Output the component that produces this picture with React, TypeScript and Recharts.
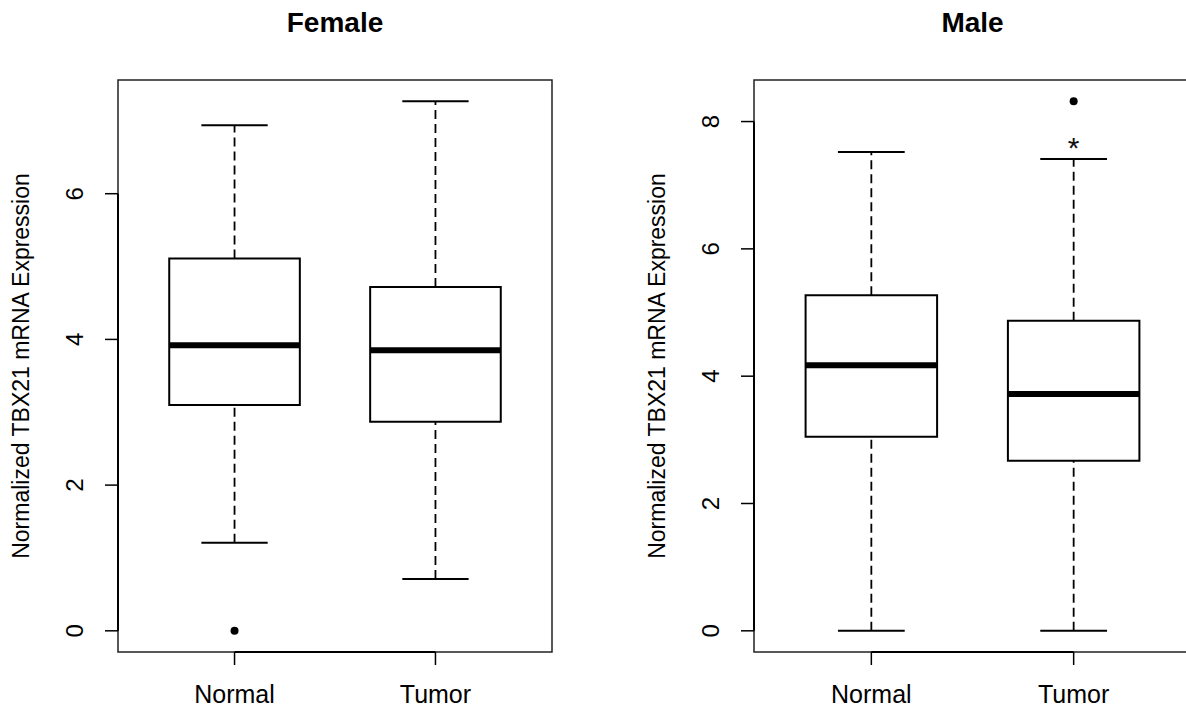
import { ComposedChart, XAxis, YAxis, ReferenceArea, ReferenceLine, Scatter } from "recharts";

const groups = ["Normal", "Tumor"];
const groupPos = [1, 2];

const femaleLow = [1.21, 0.71];
const femaleQ1 = [3.1, 2.87];
const femaleMedian = [3.92, 3.85];
const femaleQ3 = [5.11, 4.72];
const femaleHigh = [6.94, 7.27];
const femaleOutliers = [{ x: 1, y: 0 }];
const femaleStars: { x: number; y: number }[] = [];
const femaleTicks = [0, 2, 4, 6];

const maleLow = [0, 0];
const maleQ1 = [3.05, 2.67];
const maleMedian = [4.17, 3.72];
const maleQ3 = [5.27, 4.87];
const maleHigh = [7.52, 7.41];
const maleOutliers = [{ x: 2, y: 8.32 }];
const maleStars = [{ x: 2, y: 7.68 }];
const maleTicks = [0, 2, 4, 6, 8];

const FONT = "'Liberation Sans', Arial, Helvetica, sans-serif";
const xDomain = [0.42, 2.58];
const BOX_HALF = 0.325;
const CAP_HALF = 0.165;

const YTick = (props: any) => {
	const { x, y, payload } = props;
	return (
		<text
			x={x}
			y={y}
			transform={`rotate(-90, ${x}, ${y})`}
			textAnchor="middle"
			fontSize={24}
			fontFamily={FONT}
			fill="#000"
		>
			{payload.value}
		</text>
	);
};

interface PanelProps {
	title: string;
	low: number[];
	q1: number[];
	median: number[];
	q3: number[];
	high: number[];
	outliers: { x: number; y: number }[];
	stars: { x: number; y: number }[];
	ticks: number[];
	left: number;
	width: number;
	axisWidth: number;
	plotWidth: number;
}

function BoxPanel({ title, low, q1, median, q3, high, outliers, stars, ticks, left, width, axisWidth, plotWidth }: PanelProps) {
	const all = [...low, ...high, ...outliers.map((o) => o.y)];
	const lo = Math.min(...all);
	const hi = Math.max(...all);
	const pad = (hi - lo) * 0.04;
	const yDomain = [lo - pad, hi + pad];

	return (
		<div style={{ position: "absolute", left, top: 0, width, height: 714 }}>
			<div
				style={{
					position: "absolute",
					left: axisWidth,
					width: plotWidth,
					top: 9,
					textAlign: "center",
					fontFamily: FONT,
					fontWeight: "bold",
					fontSize: 28,
					lineHeight: "28px",
				}}
			>
				{title}
			</div>
			<ComposedChart
				width={width}
				height={714}
				margin={{ top: 80, right: width - axisWidth - plotWidth, bottom: 0, left: 0 }}
			>
				<XAxis
					type="number"
					dataKey="x"
					domain={xDomain}
					ticks={groupPos}
					allowDataOverflow
					height={62}
					tickSize={13}
					tickMargin={20}
					axisLine={false}
					tickLine={{ stroke: "#000", strokeWidth: 1.5 }}
					tick={{ fontSize: 25, fill: "#000", fontFamily: FONT }}
					tickFormatter={(v: number) => groups[v - 1]}
				/>
				<YAxis
					type="number"
					dataKey="y"
					domain={yDomain}
					ticks={ticks}
					allowDataOverflow
					width={axisWidth}
					tickSize={13}
					tickMargin={22}
					axisLine={false}
					tickLine={{ stroke: "#000", strokeWidth: 1.5 }}
					tick={<YTick />}
					label={(p: any) => {
						const vb = p.viewBox;
						const tx = vb.x + vb.width - 89;
						const ty = vb.y + vb.height / 2;
						return (
							<text
								x={tx}
								y={ty}
								transform={`rotate(-90, ${tx}, ${ty})`}
								textAnchor="middle"
								fontSize={23}
								fontFamily={FONT}
								fill="#000"
							>
								Normalized TBX21 mRNA Expression
							</text>
						);
					}}
				/>
				<ReferenceArea
					x1={xDomain[0]}
					x2={xDomain[1]}
					y1={yDomain[0]}
					y2={yDomain[1]}
					fill="none"
					stroke="#222"
					strokeWidth={1.5}
					ifOverflow="visible"
				/>
				<ReferenceLine
					segment={[
						{ x: groupPos[0], y: yDomain[0] },
						{ x: groupPos[1], y: yDomain[0] },
					]}
					stroke="#000"
					strokeWidth={2}
					ifOverflow="visible"
				/>
				<ReferenceLine
					segment={[
						{ x: xDomain[0], y: ticks[0] },
						{ x: xDomain[0], y: ticks[ticks.length - 1] },
					]}
					stroke="#000"
					strokeWidth={2}
					ifOverflow="visible"
				/>
				{groupPos.map((pos, i) => [
					<ReferenceLine
						key={`wl${i}`}
						segment={[
							{ x: pos, y: low[i] },
							{ x: pos, y: q1[i] },
						]}
						stroke="#000"
						strokeWidth={1.8}
						strokeDasharray="9 5"
						ifOverflow="visible"
					/>,
					<ReferenceLine
						key={`wh${i}`}
						segment={[
							{ x: pos, y: q3[i] },
							{ x: pos, y: high[i] },
						]}
						stroke="#000"
						strokeWidth={1.8}
						strokeDasharray="9 5"
						ifOverflow="visible"
					/>,
					<ReferenceLine
						key={`cl${i}`}
						segment={[
							{ x: pos - CAP_HALF, y: low[i] },
							{ x: pos + CAP_HALF, y: low[i] },
						]}
						stroke="#000"
						strokeWidth={2}
						ifOverflow="visible"
					/>,
					<ReferenceLine
						key={`ch${i}`}
						segment={[
							{ x: pos - CAP_HALF, y: high[i] },
							{ x: pos + CAP_HALF, y: high[i] },
						]}
						stroke="#000"
						strokeWidth={2}
						ifOverflow="visible"
					/>,
					<ReferenceArea
						key={`b${i}`}
						x1={pos - BOX_HALF}
						x2={pos + BOX_HALF}
						y1={q1[i]}
						y2={q3[i]}
						fill="#fff"
						fillOpacity={1}
						stroke="#000"
						strokeWidth={2}
						ifOverflow="visible"
					/>,
					<ReferenceLine
						key={`m${i}`}
						segment={[
							{ x: pos - BOX_HALF, y: median[i] },
							{ x: pos + BOX_HALF, y: median[i] },
						]}
						stroke="#000"
						strokeWidth={6}
						ifOverflow="visible"
					/>,
				])}
				<Scatter
					data={outliers}
					isAnimationActive={false}
					shape={(p: any) => <circle cx={p.cx} cy={p.cy} r={4} fill="#000" />}
				/>
				<Scatter
					data={stars}
					isAnimationActive={false}
					shape={(p: any) => (
						<text
							x={p.cx}
							y={p.cy + 16}
							textAnchor="middle"
							fontSize={30}
							fontFamily={FONT}
							fill="#111"
						>
							*
						</text>
					)}
				/>
			</ComposedChart>
		</div>
	);
}

export default function App() {
	return (
		<div
			style={{
				position: "absolute",
				left: 0,
				top: 0,
				width: 1186,
				height: 714,
				overflow: "hidden",
				background: "#fff",
			}}
		>
			<BoxPanel
				title="Female"
				low={femaleLow}
				q1={femaleQ1}
				median={femaleMedian}
				q3={femaleQ3}
				high={femaleHigh}
				outliers={femaleOutliers}
				stars={femaleStars}
				ticks={femaleTicks}
				left={0}
				width={593}
				axisWidth={118}
				plotWidth={434}
			/>
			<BoxPanel
				title="Male"
				low={maleLow}
				q1={maleQ1}
				median={maleMedian}
				q3={maleQ3}
				high={maleHigh}
				outliers={maleOutliers}
				stars={maleStars}
				ticks={maleTicks}
				left={593}
				width={640}
				axisWidth={161}
				plotWidth={437}
			/>
		</div>
	);
}
